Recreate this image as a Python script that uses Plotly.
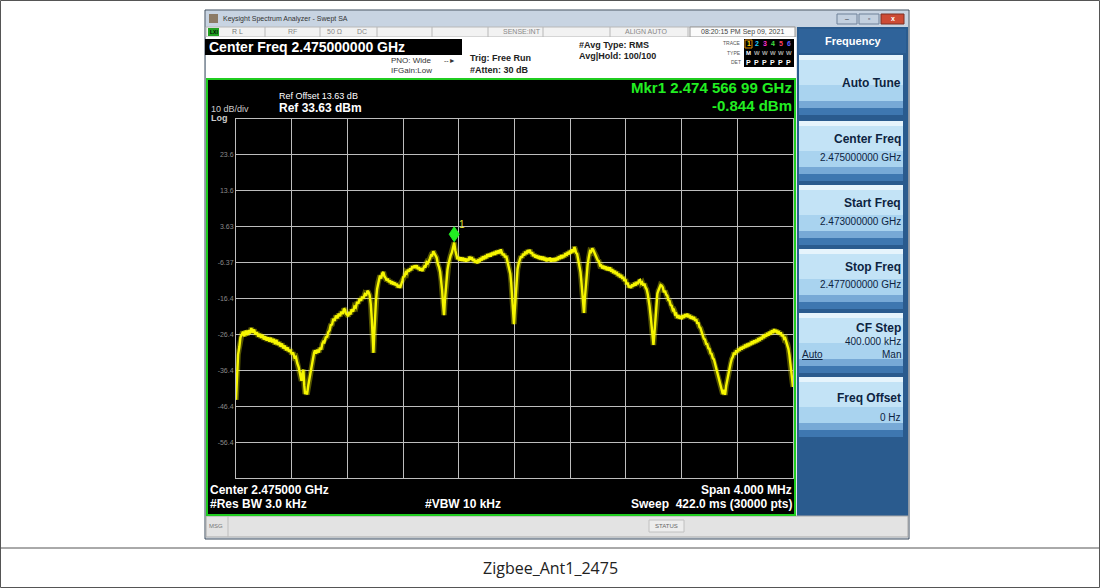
import plotly.graph_objects as go

# ---------------- data ----------------
start_mhz = 2473.0          # start frequency
stop_mhz = 2477.0           # stop frequency
ref_level_dbm = 33.63
bottom_level_dbm = -66.37

# trace: frequency offset from start (MHz) and level (dBm)
offset_mhz = [
    0.000, 0.004, 0.009, 0.015, 0.024, 0.032, 0.041, 0.050, 0.060, 0.070,
    0.080, 0.090, 0.100, 0.110, 0.120, 0.130, 0.140, 0.150, 0.160, 0.170,
    0.180, 0.190, 0.200, 0.210, 0.220, 0.230, 0.240, 0.250, 0.260, 0.270,
    0.280, 0.290, 0.300, 0.310, 0.320, 0.330, 0.340, 0.350, 0.360, 0.370,
    0.380, 0.390, 0.400, 0.410, 0.420, 0.430, 0.440, 0.450, 0.460, 0.470,
    0.478, 0.484, 0.490, 0.496, 0.503, 0.510, 0.519, 0.528, 0.536, 0.544,
    0.552, 0.560, 0.567, 0.575, 0.585, 0.595, 0.603, 0.612, 0.620, 0.627,
    0.635, 0.645, 0.655, 0.663, 0.672, 0.680, 0.690, 0.699, 0.708, 0.718,
    0.728, 0.738, 0.747, 0.757, 0.767, 0.775, 0.783, 0.790, 0.798, 0.806,
    0.814, 0.822, 0.830, 0.842, 0.850, 0.860, 0.870, 0.878, 0.888, 0.898,
    0.906, 0.914, 0.924, 0.934, 0.944, 0.952, 0.960, 0.968, 0.975, 0.982,
    0.987, 0.992, 0.998, 1.005, 1.013, 1.020, 1.028, 1.034, 1.042, 1.050,
    1.058, 1.066, 1.074, 1.082, 1.090, 1.098, 1.106, 1.114, 1.122, 1.130,
    1.138, 1.146, 1.154, 1.162, 1.170, 1.178, 1.186, 1.194, 1.201, 1.210,
    1.218, 1.226, 1.234, 1.242, 1.250, 1.258, 1.266, 1.274, 1.282, 1.290,
    1.298, 1.306, 1.314, 1.322, 1.330, 1.338, 1.345, 1.353, 1.361, 1.369,
    1.377, 1.385, 1.393, 1.401, 1.409, 1.417, 1.425, 1.433, 1.441, 1.450,
    1.458, 1.466, 1.474, 1.480, 1.486, 1.494, 1.500, 1.506, 1.512, 1.519,
    1.527, 1.535, 1.542, 1.550, 1.558, 1.567, 1.575, 1.583, 1.590, 1.598,
    1.606, 1.614, 1.622, 1.630, 1.638, 1.645, 1.653, 1.661, 1.669, 1.677,
    1.685, 1.693, 1.701, 1.709, 1.717, 1.725, 1.733, 1.741, 1.749, 1.757,
    1.765, 1.773, 1.781, 1.789, 1.797, 1.805, 1.813, 1.821, 1.829, 1.837,
    1.845, 1.853, 1.861, 1.869, 1.877, 1.885, 1.893, 1.901, 1.908, 1.916,
    1.924, 1.932, 1.940, 1.948, 1.956, 1.964, 1.970, 1.976, 1.982, 1.988,
    1.996, 2.003, 2.009, 2.015, 2.022, 2.030, 2.038, 2.046, 2.054, 2.062,
    2.070, 2.078, 2.086, 2.094, 2.102, 2.110, 2.118, 2.126, 2.134, 2.142,
    2.150, 2.158, 2.166, 2.174, 2.182, 2.190, 2.198, 2.206, 2.214, 2.222,
    2.230, 2.238, 2.246, 2.254, 2.262, 2.270, 2.278, 2.286, 2.294, 2.302,
    2.310, 2.318, 2.326, 2.334, 2.342, 2.350, 2.358, 2.366, 2.374, 2.382,
    2.390, 2.398, 2.406, 2.414, 2.422, 2.430, 2.436, 2.442, 2.450, 2.458,
    2.466, 2.474, 2.480, 2.486, 2.492, 2.499, 2.505, 2.511, 2.517, 2.525,
    2.533, 2.542, 2.550, 2.558, 2.566, 2.574, 2.582, 2.590, 2.598, 2.606,
    2.614, 2.622, 2.630, 2.638, 2.646, 2.654, 2.662, 2.670, 2.678, 2.686,
    2.694, 2.702, 2.710, 2.718, 2.726, 2.734, 2.742, 2.750, 2.758, 2.766,
    2.774, 2.781, 2.789, 2.797, 2.805, 2.813, 2.821, 2.829, 2.837, 2.845,
    2.853, 2.861, 2.869, 2.877, 2.885, 2.893, 2.901, 2.909, 2.917, 2.925,
    2.933, 2.941, 2.949, 2.957, 2.964, 2.970, 2.977, 2.984, 2.991, 2.998,
    3.005, 3.012, 3.019, 3.026, 3.033, 3.041, 3.049, 3.057, 3.065, 3.073,
    3.081, 3.089, 3.097, 3.105, 3.113, 3.121, 3.129, 3.137, 3.145, 3.153,
    3.161, 3.169, 3.177, 3.185, 3.193, 3.201, 3.209, 3.217, 3.225, 3.233,
    3.241, 3.249, 3.257, 3.265, 3.273, 3.281, 3.289, 3.297, 3.305, 3.313,
    3.320, 3.328, 3.336, 3.344, 3.352, 3.360, 3.368, 3.376, 3.384, 3.392,
    3.400, 3.408, 3.416, 3.424, 3.432, 3.440, 3.448, 3.456, 3.464, 3.472,
    3.480, 3.488, 3.496, 3.504, 3.512, 3.520, 3.528, 3.535, 3.543, 3.551,
    3.560, 3.568, 3.576, 3.584, 3.592, 3.600, 3.608, 3.616, 3.624, 3.632,
    3.640, 3.648, 3.656, 3.664, 3.672, 3.680, 3.688, 3.696, 3.704, 3.712,
    3.720, 3.728, 3.736, 3.744, 3.752, 3.760, 3.768, 3.776, 3.784, 3.792,
    3.800, 3.808, 3.816, 3.824, 3.832, 3.840, 3.848, 3.856, 3.864, 3.872,
    3.880, 3.888, 3.896, 3.904, 3.912, 3.920, 3.928, 3.936, 3.944, 3.952,
    3.960, 3.967, 3.974, 3.981, 3.987, 3.993, 4.000,
]
level_dbm = [
    -44.6, -40.0, -35.5, -32.0, -29.9, -27.2, -26.5, -25.6, -26.9, -25.3,
    -26.6, -25.2, -26.1, -24.6, -25.9, -25.0, -26.4, -25.7, -27.0, -26.2,
    -27.3, -26.5, -27.8, -26.9, -28.1, -27.2, -28.4, -27.3, -28.6, -27.6,
    -29.1, -27.9, -29.3, -28.5, -29.8, -28.9, -30.3, -29.5, -30.8, -30.0,
    -31.2, -30.6, -31.9, -31.4, -32.8, -32.6, -34.4, -35.5, -37.4, -39.3,
    -37.0, -36.2, -40.5, -43.0, -42.2, -43.1, -40.6, -38.5, -36.6, -35.0,
    -33.2, -31.6, -30.8, -31.7, -30.6, -31.4, -30.1, -30.6, -29.0, -28.4,
    -28.6, -27.2, -27.0, -25.7, -25.3, -23.8, -23.6, -22.0, -22.6, -21.1,
    -21.9, -20.6, -21.3, -20.0, -20.7, -19.2, -19.5, -20.6, -20.9, -21.3,
    -20.1, -20.8, -19.4, -20.0, -18.6, -18.9, -17.3, -17.8, -16.4, -17.0,
    -15.8, -16.4, -15.2, -15.6, -14.2, -14.6, -15.5, -18.0, -22.0, -27.5,
    -31.5, -27.0, -21.5, -17.0, -13.8, -11.9, -11.0, -10.0, -10.8, -9.4,
    -9.0, -10.2, -10.6, -11.4, -10.8, -11.8, -11.3, -12.3, -11.6, -12.5,
    -11.9, -12.7, -12.2, -13.3, -12.6, -13.4, -12.0, -11.5, -10.4, -10.2,
    -9.1, -9.4, -8.3, -8.9, -8.0, -8.5, -7.3, -7.9, -7.2, -7.9,
    -7.1, -8.2, -7.6, -8.6, -7.9, -8.7, -8.0, -7.4, -7.5, -6.3,
    -6.6, -5.6, -5.2, -4.3, -4.4, -3.2, -3.9, -4.3, -5.0, -6.8,
    -7.6, -9.0, -11.5, -14.0, -17.5, -21.0, -17.0, -13.5, -10.5, -8.3,
    -6.6, -5.2, -4.3, -3.6, -2.4, -0.8, -3.0, -4.0, -5.4, -4.8,
    -5.8, -4.9, -5.9, -5.0, -6.0, -5.2, -6.1, -5.3, -5.9, -4.7,
    -5.5, -4.8, -5.9, -5.3, -6.4, -5.7, -6.6, -5.4, -6.2, -5.0,
    -5.8, -4.6, -5.5, -4.4, -5.2, -4.0, -4.8, -3.9, -4.7, -3.6,
    -4.3, -3.4, -4.2, -3.1, -3.9, -3.0, -3.8, -2.7, -3.3, -4.3,
    -3.9, -4.9, -4.5, -5.8, -6.4, -7.8, -9.5, -12.0, -15.5, -19.5,
    -23.5, -19.0, -14.5, -10.8, -8.2, -6.6, -5.2, -4.6, -5.0, -3.9,
    -4.4, -3.3, -4.0, -2.9, -3.6, -2.8, -3.9, -3.5, -4.6, -4.0,
    -5.0, -4.3, -5.2, -4.5, -5.5, -4.6, -5.6, -4.7, -5.8, -5.0,
    -6.0, -5.1, -5.9, -5.0, -6.1, -5.2, -6.0, -5.1, -6.0, -5.0,
    -5.7, -4.6, -5.4, -4.3, -5.2, -4.2, -4.9, -3.7, -4.5, -3.4,
    -4.1, -3.0, -3.8, -2.7, -3.5, -2.0, -2.6, -3.6, -4.0, -5.5,
    -6.6, -9.0, -11.5, -14.0, -17.0, -20.4, -16.5, -13.0, -10.2, -7.0,
    -5.0, -3.2, -3.4, -2.4, -2.9, -3.6, -4.6, -4.8, -5.8, -6.0,
    -7.2, -7.1, -8.0, -7.2, -8.2, -7.4, -8.5, -7.6, -8.6, -7.7,
    -8.9, -8.2, -9.3, -8.6, -9.6, -8.9, -10.1, -9.4, -10.5, -9.8,
    -10.9, -10.3, -11.5, -11.0, -12.4, -12.0, -13.3, -12.8, -13.4, -12.4,
    -13.0, -12.0, -12.8, -11.7, -12.4, -11.4, -11.2, -12.2, -11.9, -12.8,
    -12.2, -13.3, -13.8, -15.2, -16.5, -18.5, -21.0, -24.0, -27.0, -29.3,
    -26.0, -21.5, -17.5, -15.0, -14.2, -13.6, -12.6, -12.8, -13.3, -14.6,
    -14.2, -15.3, -15.6, -16.8, -17.0, -18.2, -18.4, -19.6, -19.5, -20.8,
    -20.6, -21.8, -21.0, -22.0, -21.2, -22.1, -21.0, -21.8, -20.7, -21.5,
    -20.6, -21.6, -20.9, -22.0, -21.3, -22.2, -21.5, -22.6, -22.1, -23.4,
    -23.0, -24.3, -24.6, -25.7, -26.5, -27.6, -27.8, -29.0, -29.1, -30.2,
    -30.4, -31.6, -31.8, -33.0, -33.3, -34.6, -35.2, -36.6, -38.0, -39.4,
    -41.2, -41.9, -43.0, -41.8, -43.2, -40.7, -38.8, -37.5, -35.6, -34.6,
    -33.2, -32.6, -31.4, -32.0, -30.8, -31.4, -30.3, -31.0, -29.9, -30.6,
    -29.6, -30.3, -29.2, -30.0, -28.9, -29.7, -28.7, -29.4, -28.3, -29.1,
    -28.0, -28.8, -27.8, -28.5, -27.4, -28.2, -27.1, -27.8, -26.6, -27.4,
    -26.3, -27.0, -25.9, -26.7, -25.6, -26.4, -25.2, -26.0, -24.9, -25.8,
    -25.1, -26.1, -25.4, -26.4, -25.8, -26.9, -26.5, -27.6, -27.4, -28.6,
    -29.0, -30.4, -32.0, -34.5, -37.0, -39.0, -41.0,
]
assert len(offset_mhz) == len(level_dbm)

marker_mhz = 2474.56699
marker_dbm = -0.844

ytick_values = [23.63, 13.63, 3.63, -6.37, -16.37, -26.37, -36.37, -46.37, -56.37]
ytick_labels = ["23.6", "13.6", "3.63", "-6.37", "-16.4", "-26.4", "-36.4", "-46.4", "-56.4"]

softkey_titles = ["Auto Tune", "Center Freq", "Start Freq", "Stop Freq", "CF Step", "Freq Offset"]
softkey_values = ["", "2.475000000 GHz", "2.473000000 GHz", "2.477000000 GHz", "400.000 kHz", "0 Hz"]

caption = "Zigbee_Ant1_2475"

# ---------------- layout helpers (pixel -> paper) ----------------
W, H = 1100, 588
SANS = "Liberation Sans"
shapes = []
annotations = []


def R(x0, y0, x1, y1, fill, line=None, lw=0, layer="below"):
    shapes.append(dict(type="rect", xref="paper", yref="paper",
                       x0=x0 / W, x1=x1 / W, y0=1 - y1 / H, y1=1 - y0 / H,
                       fillcolor=fill, layer=layer,
                       line=dict(color=line if line else "rgba(0,0,0,0)", width=lw)))


def Ln(x0, y0, x1, y1, color, w=1, layer="below"):
    shapes.append(dict(type="line", xref="paper", yref="paper",
                       x0=x0 / W, x1=x1 / W, y0=1 - y0 / H, y1=1 - y1 / H,
                       layer=layer, line=dict(color=color, width=w)))


def T(x, y, s, size=9, color="#000", anchor="left", bold=False, family=SANS):
    annotations.append(dict(xref="paper", yref="paper", x=x / W, y=1 - y / H,
                            xanchor=anchor, yanchor="middle", showarrow=False,
                            text=f"<b>{s}</b>" if bold else s, borderpad=0,
                            font=dict(size=size, color=color, family=family)))


# outer table frame + caption
R(0.5, 0.5, 1099.5, 587.5, "rgba(0,0,0,0)", "#555", 1)
Ln(0, 548, 1100, 548, "#555", 1)
T(550, 568, caption, 16, "#222", "center", family="Open Sans")

# window frame
R(205, 10, 909, 539, "#dde4ec", "#3b4a5d", 1)
R(206, 11, 908, 27, "#c8d4e2")
R(209, 14, 218, 23, "#8c7b66")
T(222, 19, "Keysight Spectrum Analyzer - Swept SA", 7, "#333")
R(837, 14, 857, 24, "#c3d0df", "#6f8199", 1)
R(859, 14, 879, 24, "#c3d0df", "#6f8199", 1)
R(881, 14, 904, 24, "#cd4b35", "#7d3024", 1)
T(847, 19, "–", 7, "#334", "center")
T(869, 19, "▫", 7, "#334", "center")
T(892.5, 19, "x", 7, "#fff", "center", bold=True)

# status row
R(206, 27, 796, 37, "#f2f2f2", "#b8b8b8", 1)
for sx in [265, 320, 377, 432, 488, 543, 610, 688]:
    Ln(sx, 27, sx, 37, "#b8b8b8", 1)
R(208, 28, 219, 36, "#22a022")
T(209, 32, "LXI", 5, "#000", bold=True)
T(231, 32, "R L", 7, "#777")
T(292, 32, "RF", 7, "#888", "center")
T(334, 32, "50 Ω", 7, "#888", "center")
T(362, 32, "DC", 7, "#888", "center")
T(522, 32, "SENSE:INT", 7, "#888", "center")
T(646, 32, "ALIGN AUTO", 7, "#888", "center")
R(690, 27, 795, 37, "#fbfbfb", "#999", 1)
T(742, 32, "08:20:15 PM Sep 09, 2021", 7, "#444", "center")

# header area
R(206, 37, 796, 78, "#ffffff")
R(205, 39, 462, 55, "#000000")
T(208, 47, "Center Freq 2.475000000 GHz", 14, "#fff", bold=True)
T(390, 60, "PNO: Wide", 8, "#333")
T(443, 60, "--►", 7, "#333")
T(390, 70, "IFGain:Low", 8, "#333")
T(469, 58, "Trig: Free Run", 9, "#222", bold=True)
T(469, 70, "#Atten: 30 dB", 9, "#222", bold=True)
T(578, 45, "#Avg Type: RMS", 9, "#222", bold=True)
T(578, 56, "Avg|Hold: 100/100", 9, "#222", bold=True)
T(742, 43, "TRACE", 5, "#555", "right")
T(742, 53, "TYPE", 5, "#555", "right")
T(742, 62, "DET", 5, "#555", "right")
R(744, 39, 794, 67, "#000")
R(745, 40, 752, 48, "#000", "#e08a00", 1)
trace_colors = ["#ffd200", "#20d0ff", "#ff30d0", "#40e040", "#ff4060", "#6060ff"]
for i, c in enumerate(trace_colors):
    T(748.5 + i * 8, 44, str(i + 1), 7, c, "center", bold=True)
for i, c in enumerate(["M", "W", "W", "W", "W", "W"]):
    T(748.5 + i * 8, 53, c, 6, "#fff" if i == 0 else "#aaa", "center", bold=True)
for i in range(6):
    T(748.5 + i * 8, 62, "P", 7, "#fff", "center", bold=True)

# right soft-key panel
R(797, 27, 908, 516, "#2a5b8e")
R(799, 29, 906, 53, "#2f639a")
T(853, 41, "Frequency", 11, "#fff", "center", bold=True)
key_tops = [55, 121, 185, 249, 313, 377]
for top in key_tops:
    R(799, top, 903, top + 60, "#a9d3ef")
    R(799, top, 903, top + 5, "#e6f4fc")
    R(799, top + 5, 903, top + 30, "#c3e3f6")
    R(799, top + 46, 903, top + 53, "#77a9d6")
    R(799, top + 53, 903, top + 60, "#3e77b0")
NAVY = "#0d2341"
T(902, key_tops[0] + 28, softkey_titles[0], 12, NAVY, "right", bold=True)
for k in [1, 2, 3]:
    T(902, key_tops[k] + 18, softkey_titles[k], 12, NAVY, "right", bold=True)
    T(902, key_tops[k] + 36, softkey_values[k], 10, NAVY, "right")
T(902, key_tops[4] + 15, softkey_titles[4], 12, NAVY, "right", bold=True)
T(902, key_tops[4] + 28, softkey_values[4], 10, NAVY, "right")
T(902, key_tops[4] + 41, "Man", 10, NAVY, "right")
T(801, key_tops[4] + 41, "<u>Auto</u>", 10, NAVY, "left")
T(902, key_tops[5] + 21, softkey_titles[5], 12, NAVY, "right", bold=True)
T(902, key_tops[5] + 40, softkey_values[5], 10, NAVY, "right")

# bottom status bar
R(206, 516, 908, 537, "#e3e3e3", "#a8a8a8", 1)
Ln(228, 516, 228, 537, "#bdbdbd", 1)
T(208, 526, "MSG", 6, "#777")
R(649, 520, 684, 532, "#ededed", "#c0c0c0", 1)
T(666.5, 526, "STATUS", 6, "#666", "center")

# measurement display (black with green border)
R(207, 79, 795, 515, "#000000", "#20cc20", 2)
T(278, 96, "Ref Offset 13.63 dB", 9, "#fff")
T(278, 108, "Ref 33.63 dBm", 12, "#fff", bold=True)
T(210, 109, "10 dB/div", 9, "#ccc")
T(210, 118, "Log", 9, "#ccc", bold=True)
T(793, 88, "Mkr1 2.474 566 99 GHz", 15, "#22ee22", "right", bold=True)
T(793, 105, "-0.844 dBm", 15, "#22ee22", "right", bold=True)
T(209, 490, "Center 2.475000 GHz", 12, "#fff", bold=True)
T(209, 504, "#Res BW 3.0 kHz", 12, "#fff", bold=True)
T(463, 504, "#VBW 10 kHz", 12, "#fff", "center", bold=True)
T(793, 490, "Span 4.000 MHz", 12, "#fff", "right", bold=True)
T(793, 504, "Sweep  422.0 ms (30000 pts)", 12, "#fff", "right", bold=True)

# ---------------- figure ----------------
fig = go.Figure()
trace_x = [start_mhz + o for o in offset_mhz]
# soft halo (same data) to mimic the blurred, noisy trace band
fig.add_trace(go.Scatter(x=trace_x, y=level_dbm, mode="lines",
                         line=dict(color="rgba(240,240,0,0.35)", width=5.5), hoverinfo="skip"))
fig.add_trace(go.Scatter(x=trace_x, y=level_dbm, mode="lines",
                         line=dict(color="#f6f600", width=2.4), hoverinfo="skip"))

# marker diamond (bottom tip on the trace point)
shapes.append(dict(type="path", xref="x", yref="y", xsizemode="pixel", ysizemode="pixel",
                   xanchor=marker_mhz, yanchor=marker_dbm,
                   path="M 0 1 L 5 8.5 L 0 16 L -5 8.5 Z",
                   fillcolor="#22ee22", line=dict(color="#22ee22", width=1), layer="above"))
annotations.append(dict(xref="x", yref="y", x=marker_mhz, y=marker_dbm, text="1",
                        showarrow=False, xshift=8, yshift=18,
                        font=dict(size=10, color="#e8e830", family=SANS)))

GRID = "#bdbdbd"
fig.update_layout(
    width=W, height=H, margin=dict(l=0, r=0, t=0, b=0),
    paper_bgcolor="#ffffff", plot_bgcolor="#000000", showlegend=False,
    shapes=shapes, annotations=annotations,
    xaxis=dict(domain=[236 / W, 793 / W], range=[start_mhz, stop_mhz],
               tick0=start_mhz, dtick=0.4, showgrid=True, gridcolor=GRID, gridwidth=1,
               showticklabels=False, ticks="", zeroline=False,
               showline=True, mirror=True, linecolor=GRID, linewidth=1),
    yaxis=dict(domain=[1 - 478 / H, 1 - 119 / H], range=[bottom_level_dbm, ref_level_dbm],
               tickvals=ytick_values, ticktext=ytick_labels, showgrid=True,
               gridcolor=GRID, gridwidth=1, ticks="", zeroline=False,
               tickfont=dict(size=7, color="#8a8a8a", family=SANS),
               showline=True, mirror=True, linecolor=GRID, linewidth=1),
)

fig.write_html("out.html", config={"displayModeBar": False},
               post_script="document.body.style.margin='0';document.body.style.overflow='hidden';")
